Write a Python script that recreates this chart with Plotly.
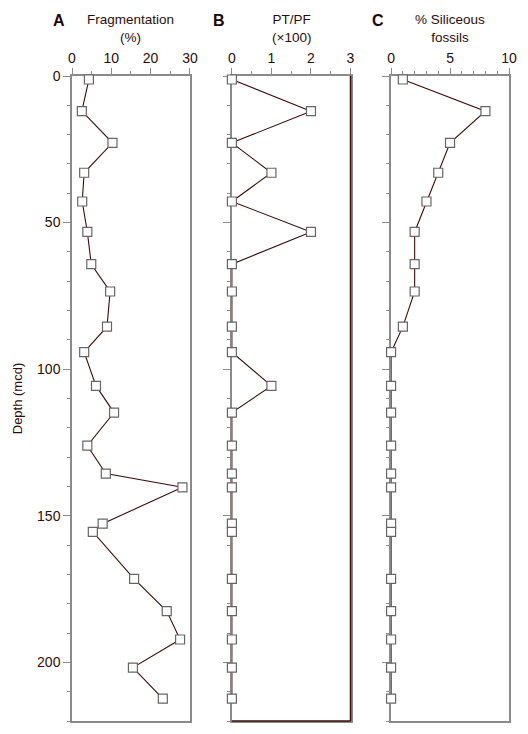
import plotly.graph_objects as go

depth = [1.2, 12.0, 22.8, 33.0, 42.8, 53.2, 64.2, 73.5, 85.5, 94.2, 105.7, 114.8,
         126.1, 135.6, 140.3, 152.7, 155.5, 171.5, 182.5, 192.2, 201.8, 212.4]
fragmentation = [4.3, 2.5, 10.3, 3.1, 2.6, 3.9, 4.9, 9.7, 8.9, 3.1, 6.1, 10.7,
                 3.9, 8.6, 28.1, 7.8, 5.3, 15.8, 24.1, 27.5, 15.5, 23.1]
pt_pf = [0, 2, 0, 1, 0, 2, 0, 0, 0, 0, 1, 0, 0, 0, 0, 0, 0, 0, 0, 0, 0, 0]
siliceous = [1, 8, 5, 4, 3, 2, 2, 2, 1, 0, 0, 0, 0, 0, 0, 0, 0, 0, 0, 0, 0, 0]

panels = [
    ("A", "Fragmentation<br>(%)", fragmentation, [0, 30], 10, 5),
    ("B", "PT/PF<br>(×100)", pt_pf, [0, 3], 1, 0.5),
    ("C", "% Siliceous<br>fossils", siliceous, [0, 10], 5, 1),
]

FONT = "Liberation Sans, Arial, Helvetica, sans-serif"
TXT = "#2a0d0d"
LINE = "#3a0c0c"
AX = "#8a8a8a"

W, H = 528, 734
L = 64
T = 68
pw = 509.3 - 72
R = W - L - pw
B = (H + 8) - 721
doms = [[0, 118 / pw], [(232 - 72) / pw, (350.7 - 72) / pw], [(391.3 - 72) / pw, 1.0]]

fig = go.Figure()
for i, (letter, title, vals, rng, dt, mdt) in enumerate(panels):
    n = "" if i == 0 else str(i + 1)
    fig.add_trace(go.Scatter(
        x=vals, y=depth, mode="lines+markers",
        xaxis="x" + n, yaxis="y" + n,
        line=dict(color=LINE, width=1.1),
        marker=dict(symbol="square", size=9, color="white",
                    line=dict(color="#666", width=1.2)),
        cliponaxis=False, showlegend=False,
    ))
    fig.layout["xaxis" + n] = dict(
        domain=doms[i], range=rng, side="top", anchor="y" + n,
        tickmode="linear", tick0=0, dtick=dt, ticks="outside", ticklen=6,
        tickcolor=AX, showline=True, linecolor=AX, linewidth=1.5, mirror=True,
        showgrid=False, zeroline=False, automargin=False, layer="below traces",
        tickfont=dict(family=FONT, size=14, color=TXT),
        minor=dict(dtick=mdt, tick0=0, ticks="outside", ticklen=3, tickcolor=AX),
    )
    yd = dict(
        domain=[0, 1], range=[220, 0], anchor="x" + n,
        tickmode="linear", tick0=0, dtick=50, ticks="outside", ticklen=7,
        tickcolor=AX, showline=True, linecolor=AX, linewidth=1.5, mirror=True,
        showgrid=False, zeroline=False, automargin=False, layer="below traces",
        minor=dict(dtick=10, tick0=0, ticks="outside", ticklen=3, tickcolor=AX),
        tickfont=dict(family=FONT, size=14, color=TXT),
        showticklabels=(i == 0),
    )
    if i == 0:
        yd["title"] = dict(text="Depth (mcd)", font=dict(family=FONT, size=13, color=TXT), standoff=12)
    fig.layout["yaxis" + n] = yd

    cx = (doms[i][0] + doms[i][1]) / 2
    fig.add_annotation(x=cx, y=1, xref="paper", yref="paper",
                       xanchor="center", yanchor="bottom",
                       yshift=29, text=title, showarrow=False,
                       font=dict(family=FONT, size=13.5, color=TXT))
    fig.add_annotation(x=doms[i][0], y=1, xref="paper", yref="paper",
                       xanchor="center", yanchor="bottom", xshift=-13, yshift=45,
                       text="<b>" + letter + "</b>", showarrow=False,
                       font=dict(family=FONT, size=16, color="#1a0505"))

# panel B right and bottom borders are dark
fig.add_shape(type="line", xref="x2 domain", yref="y2 domain", x0=1, x1=1, y0=0, y1=1,
              line=dict(color=LINE, width=1.5), layer="above")
fig.add_shape(type="line", xref="x2 domain", yref="y2 domain", x0=0, x1=1, y0=0, y1=0,
              line=dict(color=LINE, width=1.5), layer="above")

fig.update_layout(
    width=W, height=H,
    margin=dict(l=L, r=R, t=T, b=B, autoexpand=False),
    paper_bgcolor="white", plot_bgcolor="white",
)
fig.write_html("out.html")
